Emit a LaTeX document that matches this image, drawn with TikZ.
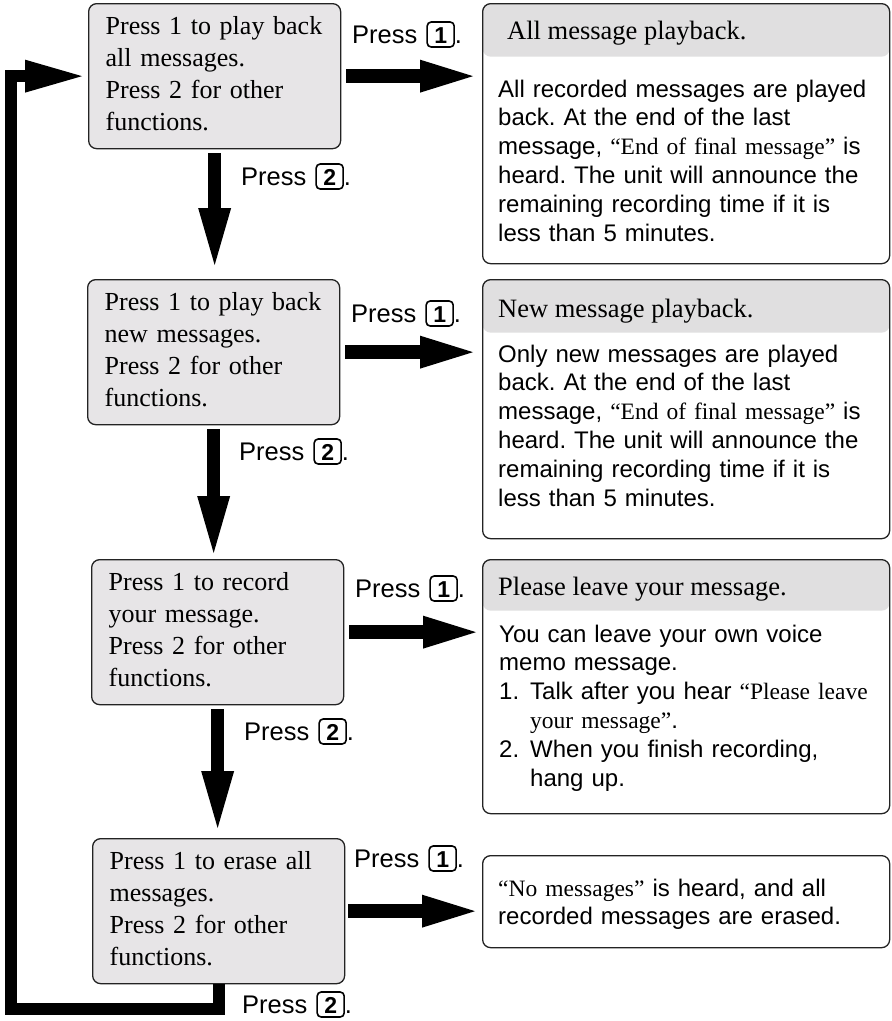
\documentclass[tikz,border=0pt]{standalone}
\usepackage{fontspec}
\setmainfont{Liberation Serif}
\newfontfamily\arialf{Liberation Sans}
\usetikzlibrary{arrows.meta,calc}
\frenchspacing

\definecolor{boxgray}{RGB}{231,229,231}
\definecolor{hdrgray}{RGB}{224,223,224}
\definecolor{edgecol}{RGB}{35,35,35}

\newcommand{\kc}[1]{\tikz[baseline=0pt]\node[anchor=base, draw=black, line width=1.6pt, rounded corners=4pt, inner sep=0pt, minimum width=27pt, minimum height=25pt, text height=17pt, text depth=0pt, font=\fontsize{23}{23}\arialf\bfseries]{#1};}
\newcommand{\tnr}[1]{{\fontsize{23.5}{28.8}\rmfamily #1}}

\begin{document}
\begin{tikzpicture}[x=1pt,y=-1pt,
  lbox/.style={anchor=north west, draw=edgecol, line width=1.3pt, fill=boxgray, rounded corners=8pt,
     text width=218pt, align=left, inner xsep=17pt, inner ysep=0pt, text height=31pt, text depth=114pt,
     font=\fontsize{26}{32}\selectfont},
  rbox/.style={anchor=north west, draw=edgecol, line width=1.3pt, fill=white, rounded corners=8pt,
     minimum width=407pt, inner sep=0pt},
  hdr/.style={path picture={\fill[hdrgray] (path picture bounding box.north west) rectangle ([yshift=-#1]path picture bounding box.north east);}},
  hdrtext/.style={anchor=base west, inner sep=0pt, font=\fontsize{26.5}{32}\selectfont},
  body/.style={anchor=base west, inner sep=0pt, text width=388pt, align=left, font=\fontsize{24}{28.8}\arialf},
  press/.style={anchor=base west, inner sep=0pt, font=\fontsize{25.5}{30}\arialf},
  harrow/.style={line width=14pt, -{Triangle[length=53pt,width=33pt,line width=0pt]}},
  varrow/.style={line width=13pt, -{Triangle[length=57pt,width=33pt,line width=0pt]}},
  rarrow/.style={line width=12pt, -{Triangle[length=57pt,width=33pt,line width=0pt]}}
]
\useasboundingbox (0,0) rectangle (892,1021);

% left boxes
\node[lbox] (b1) at (88,3) {\mbox{Press 1 to play back}\\all messages.\\Press 2 for other\\functions.};
\node[lbox] (b2) at (87,279) {\mbox{Press 1 to play back}\\new messages.\\Press 2 for other\\functions.};
\node[lbox] (b3) at (91,559) {Press 1 to record\\your message.\\Press 2 for other\\functions.};
\node[lbox] (b4) at (92,838) {\mbox{Press 1 to erase all}\\messages.\\Press 2 for other\\functions.};

% right boxes
\node[rbox, hdr=53pt, minimum height=260pt] (r1) at (482,3) {};
\node[rbox, hdr=53pt, minimum height=259pt] (r2) at (482,279) {};
\node[rbox, hdr=51pt, minimum height=254pt] (r3) at (482,559) {};
\node[rbox, minimum height=92pt] (r4) at (482,855) {};

\node[hdrtext] (r1h) at (507,39) {All message playback.};
\node[hdrtext] (r2h) at (498,317) {New message playback.};
\node[hdrtext] (r3h) at (498,595) {Please leave your message.};

\node[body] (r1b) at (498,97) {All recorded messages are played\\back. At the end of the last\\message, \tnr{“End of final message”} is\\heard. The unit will announce the\\remaining recording time if it is\\less than 5 minutes.};
\node[body] (r2b) at (498,362) {Only new messages are played\\back. At the end of the last\\message, \tnr{“End of final message”} is\\heard. The unit will announce the\\remaining recording time if it is\\less than 5 minutes.};
\node[body] (r3b) at (499,642) {You can leave your own voice\\memo message.\\\makebox[31pt][l]{1.}Talk after you hear \tnr{“Please leave}\\\hspace*{31pt}\tnr{your message”}.\\\makebox[31pt][l]{2.}When you finish recording,\\\hspace*{31pt}hang up.};
\node[body] (r4b) at (498,896) {\tnr{“No messages”} is heard, and all\\recorded messages are erased.};

% press labels
\node[press] (p1a) at (352,43) {Press\hspace{9pt}\kc{1}.};
\node[press] (p2a) at (241,185) {Press\hspace{9pt}\kc{2}.};
\node[press] (p1b) at (351,322) {Press\hspace{9pt}\kc{1}.};
\node[press] (p2b) at (239,460) {Press\hspace{9pt}\kc{2}.};
\node[press] (p1c) at (355,597) {Press\hspace{9pt}\kc{1}.};
\node[press] (p2c) at (244,740) {Press\hspace{9pt}\kc{2}.};
\node[press] (p1d) at (354,867) {Press\hspace{9pt}\kc{1}.};
\node[press] (p2d) at (242,1013) {Press\hspace{9pt}\kc{2}.};

% arrows to the right
\draw[harrow, shorten <=5pt, shorten >=9pt] (b1.east) -- (b1.east -| r1.west);
\draw[harrow, shorten <=5pt, shorten >=9pt] (b2.east) -- (b2.east -| r2.west);
\draw[harrow, shorten <=5pt, shorten >=6pt] (b3.east) -- (b3.east -| r3.west);
\draw[harrow, shorten <=3pt, shorten >=7pt] (b4.east) -- (b4.east -| r4.west);

% arrows down
\draw[varrow, shorten <=4pt, shorten >=14pt] (b1.south) -- (b1.south |- b2.north);
\draw[varrow, shorten <=4pt, shorten >=6pt] (b2.south) -- (b2.south |- b3.north);
\draw[varrow, shorten <=4pt, shorten >=10pt] (b3.south) -- (b3.south |- b4.north);

% return arrow
\coordinate (cb) at (11,1008.5);
\draw[rarrow, shorten >=6pt] (b4.south) |- (cb) |- (b1.west);
\end{tikzpicture}
\end{document}
